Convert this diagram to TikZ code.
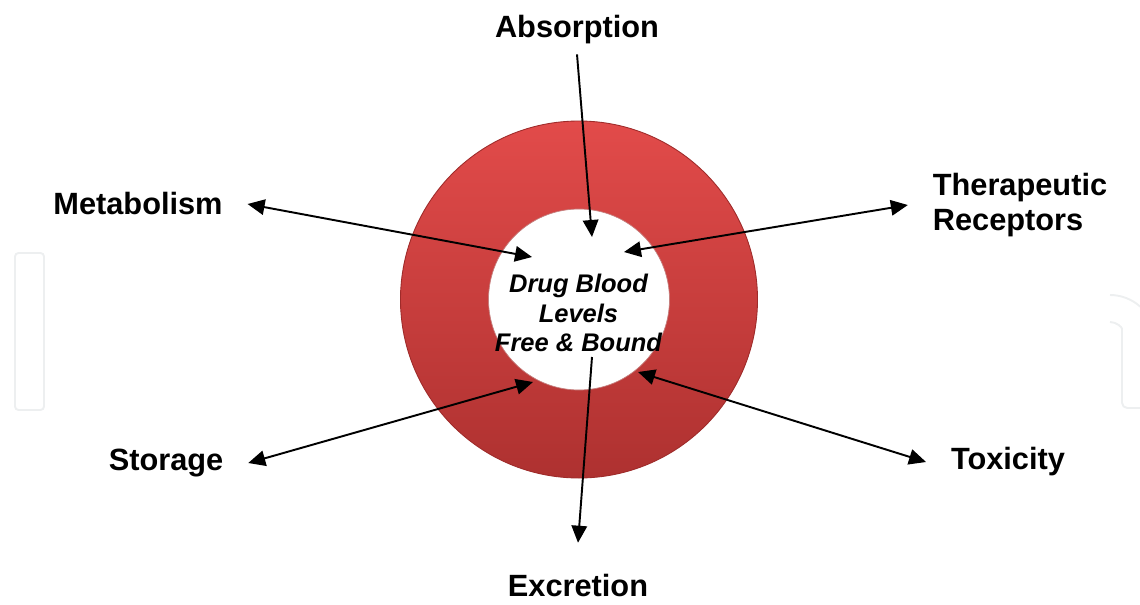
\documentclass[tikz,border=0pt]{standalone}
\usepackage{fontspec}
\setmainfont{Liberation Sans}
\usetikzlibrary{arrows.meta}
\definecolor{ringtop}{HTML}{E24B4A}
\definecolor{ringbottom}{HTML}{AE3130}
\definecolor{ringedge}{HTML}{9E2B2A}
\definecolor{wmark}{HTML}{EDEFF0}
\tikzset{
  >={Triangle[length=0.34cm, width=0.31cm]},
  lbl/.style={font=\fontsize{17.5}{19.5}\selectfont\bfseries, inner sep=0pt, outer sep=0.5cm},
  hub/.style={font=\fontsize{14.5}{17}\selectfont\bfseries\itshape, align=center, inner sep=0pt},
  link/.style={line width=1.1pt, black},
  wm/.style={draw=wmark, line width=1.1pt},
}
\begin{document}
\begin{tikzpicture}
    \useasboundingbox (0,0) rectangle (22.8,12.08);
    \draw[wm, rounded corners=2pt] (0.30,3.88) rectangle (0.88,7.02);
    \draw[wm] (22.2,6.18) arc[start angle=90, end angle=48, radius=0.9];
    \draw[wm, rounded corners=3pt] (22.2,5.64) arc[start angle=90, end angle=0, radius=0.24] -- (22.44,3.92) -- (22.8,3.92);
    \coordinate (ring) at (11.58,6.09);
    \shade[top color=ringtop, bottom color=ringbottom, even odd rule]
      (ring) circle[radius=3.57] (ring) circle[radius=1.81];
    \draw[ringedge, line width=0.5pt] (ring) circle[radius=3.57];
    \draw[ringedge!60, line width=0.4pt] (ring) circle[radius=1.81];
    \node[hub] (blood) at (11.57,5.82) {Drug Blood\\Levels\\Free \& Bound};
    \node[lbl, outer sep=0.2cm] (abs) at (11.54,11.48) {Absorption};
    \node[lbl] (met) at (2.76,8.00) {Metabolism};
    \node[lbl, align=left] (ther) at (20.40,7.98) {Therapeutic\\Receptors};
    \node[lbl] (sto) at (3.32,2.82) {Storage};
    \node[lbl] (tox) at (20.16,2.84) {Toxicity};
    \node[lbl, outer sep=0.64cm] (exc) at (11.56,0.36) {Excretion};
    \coordinate (abs-in) at (11.84,7.34);
    \coordinate (met-in) at (10.64,6.94);
    \coordinate (ther-in) at (12.48,7.04);
    \coordinate (sto-in) at (10.66,4.44);
    \coordinate (tox-in) at (12.76,4.64);
    \coordinate (exc-in) at (11.84,4.94);
    \draw[link, ->] (abs.south) -- (abs-in);
    \draw[link, <->] (met.east) -- (met-in);
    \draw[link, <->] (ther.west) -- (ther-in);
    \draw[link, <->] (sto.east) -- (sto-in);
    \draw[link, <->] (tox.west) -- (tox-in);
    \draw[link, ->] (exc-in) -- (exc.north);
  \end{tikzpicture}
\end{document}
